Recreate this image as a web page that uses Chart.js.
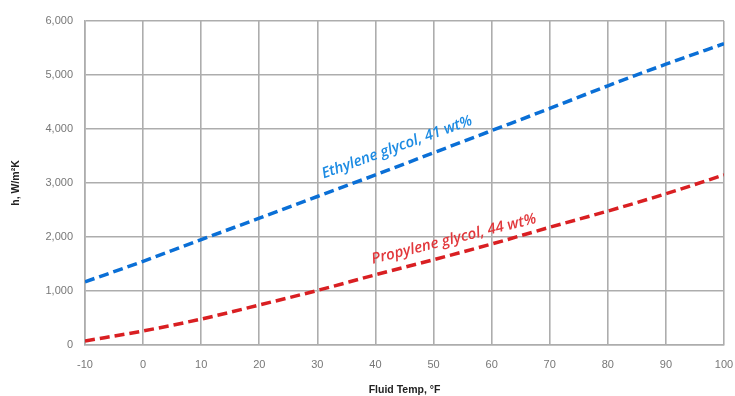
<!DOCTYPE html>
<html>
<head>
<meta charset="utf-8">
<script src="https://cdn.jsdelivr.net/npm/chart.js@4.4.0/dist/chart.umd.min.js"></script>
<style>
  html, body { margin: 0; padding: 0; background: #fff; }
  #wrap { width: 735px; height: 396px; }
</style>
</head>
<body>
<div id="wrap"><canvas id="myChart" width="735" height="396"></canvas></div>
<script>
var temps = [-10, 0, 10, 20, 30, 40, 50, 60, 70, 80, 90, 100];
var ethylene = [1170, 1550, 1950, 2350, 2750, 3150, 3560, 3970, 4380, 4800, 5200, 5580];
var propylene = [75, 260, 480, 740, 1010, 1300, 1580, 1870, 2180, 2480, 2800, 3150];

var seriesLabels = ['Ethylene glycol, 41 wt%', 'Propylene glycol, 44 wt%'];
// where the rotated labels sit, in data units
var labelSpots = [
  {x: 43.7, y: 3660, angle: -20, color: '#1c8be3'},
  {x: 53.5, y: 1960, angle: -14, color: '#e2383c'}
];

var toPoints = function (ys) {
  return temps.map(function (t, i) { return {x: t, y: ys[i]}; });
};

var lineLabels = {
  id: 'lineLabels',
  afterDatasetsDraw: function (chart) {
    var c = chart.ctx;
    var xs = chart.scales.x, ys = chart.scales.y;
    labelSpots.forEach(function (s, i) {
      c.save();
      c.translate(xs.getPixelForValue(s.x), ys.getPixelForValue(s.y));
      c.rotate(s.angle * Math.PI / 180);
      c.font = 'italic 600 15px "Open Sans"';
      c.fillStyle = s.color;
      c.textAlign = 'center';
      c.textBaseline = 'middle';
      c.fillText(seriesLabels[i], 0, 0);
      c.restore();
    });
  }
};

var ctx = document.getElementById('myChart').getContext('2d');
var myChart = new Chart(ctx, {
  type: 'scatter',
  data: {
    datasets: [{
      label: seriesLabels[0],
      data: toPoints(ethylene),
      showLine: true,
      borderColor: '#0a6fd6',
      borderWidth: 3.5,
      borderDash: [10, 5],
      pointRadius: 0,
      cubicInterpolationMode: 'monotone',
      fill: false
    }, {
      label: seriesLabels[1],
      data: toPoints(propylene),
      showLine: true,
      borderColor: '#d91f22',
      borderWidth: 3.5,
      borderDash: [10, 5],
      pointRadius: 0,
      cubicInterpolationMode: 'monotone',
      fill: false
    }]
  },
  options: {
    responsive: false,
    animation: false,
    layout: { padding: { top: 21, right: 11, left: 0, bottom: 0 } },
    plugins: {
      legend: { display: false },
      tooltip: { enabled: false }
    },
    scales: {
      x: {
        min: -10, max: 100,
        afterFit: function (a) { a.height = 51; a.paddingLeft = 0; a.paddingRight = 0; },
        ticks: {
          stepSize: 10,
          padding: 13,
          color: '#777',
          font: { family: 'Liberation Sans', size: 11 }
        },
        grid: { color: '#adadad', lineWidth: 1.6, drawTicks: false },
        border: { color: '#adadad', width: 1.6 },
        title: {
          display: true,
          text: 'Fluid Temp, °F',
          color: '#222',
          padding: { top: 8, bottom: 0 },
          font: { family: 'Liberation Sans', size: 10.5, weight: 'bold' }
        }
      },
      y: {
        min: 0, max: 6000,
        afterFit: function (a) { a.width = 85; a.paddingTop = 0; a.paddingBottom = 0; },
        ticks: {
          stepSize: 1000,
          padding: 12,
          color: '#777',
          font: { family: 'Liberation Sans', size: 11 },
          callback: function (v) { return v.toLocaleString('en-US'); }
        },
        grid: { color: '#adadad', lineWidth: 1.6, drawTicks: false },
        border: { color: '#adadad', width: 1.6 },
        title: {
          display: true,
          text: 'h, W/m²K',
          color: '#222',
          padding: { top: 10, bottom: 0 },
          font: { family: 'Liberation Sans', size: 10.5, weight: 'bold' }
        }
      }
    }
  },
  plugins: [lineLabels]
});
</script>
</body>
</html>
